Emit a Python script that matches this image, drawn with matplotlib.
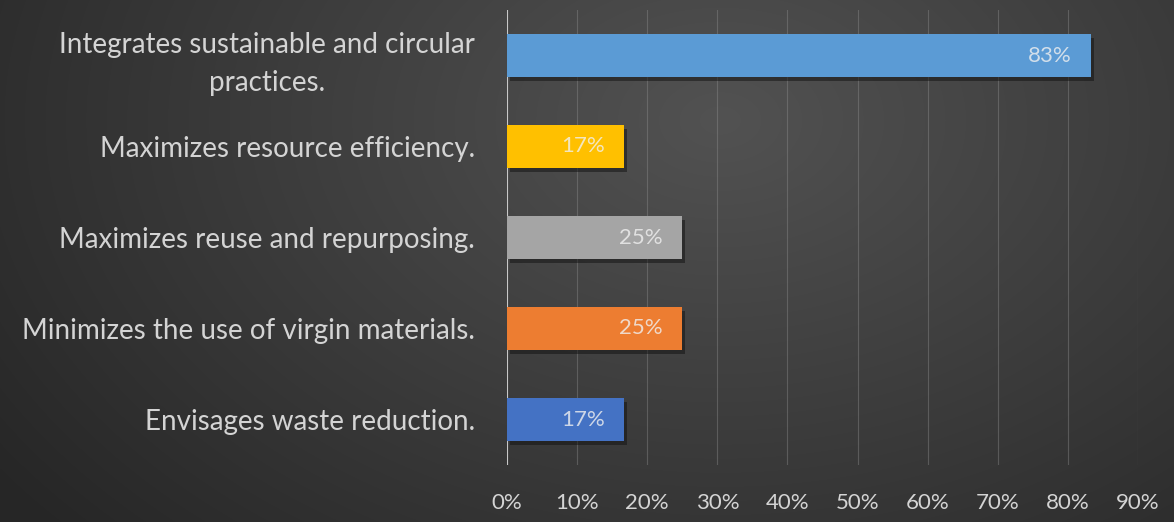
#!/usr/bin/env python3
# -*- coding: utf-8 -*-
"""Horizontal bar chart on a dark gradient background (Excel style)."""

import numpy as np
import matplotlib
matplotlib.use("Agg")
import matplotlib.pyplot as plt
import matplotlib.patheffects as pe
from matplotlib.ticker import PercentFormatter

# ---- data (bottom to top) ----
categories = [
    "Envisages waste reduction.",
    "Minimizes the use of virgin materials.",
    "Maximizes reuse and repurposing.",
    "Maximizes resource efficiency.",
    "Integrates sustainable and circular\npractices.",
]
shares = [0.167, 0.25, 0.25, 0.167, 0.833]
bar_colors = ["#4472c4", "#ed7d31", "#a5a5a5", "#ffc000", "#5b9bd5"]
x_ticks = [0.0, 0.1, 0.2, 0.3, 0.4, 0.5, 0.6, 0.7, 0.8, 0.9]

plt.rcParams["font.family"] = ["Lato", "DejaVu Sans"]

W, H = 1174, 522
fig = plt.figure(figsize=(W / 100, H / 100), dpi=100)

# background: soft radial gradient, lighter near the upper middle
bg = fig.add_axes([0, 0, 1, 1], zorder=-10)
yy, xx = np.mgrid[0:H, 0:W]
d = np.sqrt(((xx - 720) / 900.0) ** 2 + ((yy - 120) / 620.0) ** 2)
d = np.clip(d, 0, 1)
shade = 0x52 - (0x52 - 0x26) * d
img = np.dstack([shade, shade, shade]) / 255.0
bg.imshow(img, aspect="auto", extent=[0, 1, 0, 1])
bg.axis("off")

ax = fig.add_axes([507 / W, 1 - 465 / H, (1138 - 507) / W, (465 - 10) / H])
ax.set_facecolor("none")

y = np.arange(len(categories))
shadow = [pe.SimplePatchShadow(offset=(2, -3), shadow_rgbFace="#111111", alpha=0.5), pe.Normal()]
bars = ax.barh(y, shares, height=0.47, color=bar_colors, zorder=3)
for b in bars:
    b.set_path_effects(shadow)

for b, v in zip(bars, shares):
    ax.text(b.get_width() - 0.028, b.get_y() + b.get_height() / 2, f"{v:.0%}",
            ha="right", va="center", color="#f0f0f0", alpha=0.8, fontsize=16, zorder=4)

ax.set_xlim(0, 0.9)
ax.set_ylim(-0.5, len(categories) - 0.5)
ax.set_xticks(x_ticks)
ax.xaxis.set_major_formatter(PercentFormatter(1.0, decimals=0))
ax.set_yticks(y)
ax.set_yticklabels(categories, multialignment="center", linespacing=1.55)

ax.grid(axis="x", color="#909090", linewidth=0.8, alpha=0.4, zorder=0)
ax.axvline(0, color="#c8c8c8", linewidth=1.5, zorder=2)
for s in ax.spines.values():
    s.set_visible(False)

ax.tick_params(axis="x", length=0, pad=20, labelsize=16, labelcolor="#d4d4d4")
ax.tick_params(axis="y", length=0, pad=23, labelsize=20, labelcolor="#d4d4d4")

fig.savefig("out.png", dpi=100)
